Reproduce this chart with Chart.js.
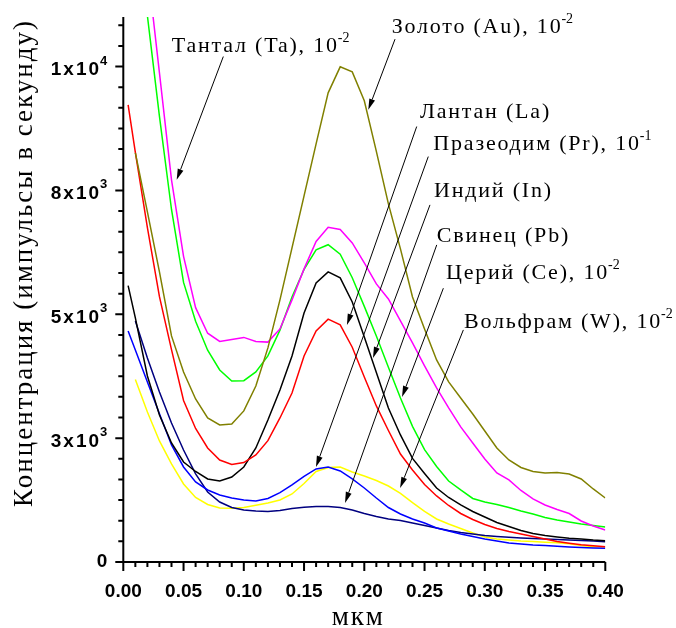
<!DOCTYPE html>
<html>
<head>
<meta charset="utf-8">
<script src="https://cdn.jsdelivr.net/npm/chart.js@4.4.1/dist/chart.umd.min.js"></script>
<style>
  html, body { margin: 0; padding: 0; background: #fff; }
  canvas { display: block; }
</style>
</head>
<body>
<canvas id="myChart" width="676" height="628"></canvas>
<script>
// глубина, мкм
const depth = [0.004, 0.01, 0.02, 0.03, 0.04, 0.05, 0.06, 0.07, 0.08, 0.09, 0.10,
  0.11, 0.12, 0.13, 0.14, 0.15, 0.16, 0.17, 0.18, 0.19, 0.20,
  0.21, 0.22, 0.23, 0.24, 0.25, 0.26, 0.27, 0.28, 0.29, 0.30,
  0.31, 0.32, 0.33, 0.34, 0.35, 0.36, 0.37, 0.38, 0.39, 0.40];

// концентрации (импульсы в секунду), уже с множителями
const gold = [null, 8258, 7067, 5855, 4563, 3836, 3291, 2907, 2766, 2786, 3049,
  3553, 4321, 5290, 6340, 7390, 8439, 9469, 9994, 9893, 9308,
  8288, 7228, 6319, 5350, 4704, 4078, 3634, 3311, 2988, 2645,
  2302, 2059, 1908, 1827, 1797, 1807, 1777, 1676, 1474, 1292];
const tantalum = [null, null, 12013, 9873, 7713, 6170, 5134, 4618, 4452, 4492, 4533,
  4452, 4438, 4704, 5290, 5916, 6471, 6754, 6713, 6441, 6037,
  5613, 5310, 4866, 4422, 3957, 3513, 3109, 2726, 2403, 2080,
  1797, 1656, 1444, 1272, 1151, 1060, 979, 828, 727, 646];
const greenLine = [null, 13043, 11024, 8993, 7115, 5643, 4860, 4274, 3876, 3654, 3660,
  3836, 4159, 4680, 5350, 5906, 6299, 6404, 6212, 5738, 5160,
  4563, 3929, 3311, 2738, 2267, 1928, 1635, 1454, 1282, 1211,
  1161, 1100, 1030, 969, 898, 848, 808, 767, 737, 707];
const redLine = [9227, 8268, 6750, 5356, 4288, 3261, 2695, 2302, 2059, 1969, 2007,
  2160, 2449, 2907, 3412, 4159, 4664, 4902, 4785, 4335, 3735,
  3150, 2655, 2180, 1857, 1565, 1333, 1141, 979, 858, 757,
  676, 616, 565, 515, 464, 414, 378, 347, 327, 309];
const blackLine = [5577, 4926, 3755, 2968, 2403, 2019, 1827, 1676, 1635, 1716, 1918,
  2302, 2867, 3473, 4159, 5027, 5633, 5855, 5734, 5249, 4543,
  3826, 3109, 2564, 2090, 1787, 1494, 1302, 1151, 1020, 909,
  798, 717, 636, 575, 535, 505, 478, 464, 444, 430];
const blueLine = [4664, 4280, 3634, 2990, 2362, 1918, 1615, 1454, 1353, 1292, 1252,
  1232, 1282, 1399, 1555, 1726, 1878, 1918, 1837, 1676, 1494,
  1292, 1100, 969, 868, 787, 686, 626, 565, 515, 464,
  424, 384, 363, 343, 333, 317, 303, 293, 283, 277];
const navyLine = [null, 4866, 4119, 3432, 2806, 2261, 1777, 1413, 1211, 1100, 1050,
  1030, 1020, 1040, 1080, 1104, 1121, 1121, 1100, 1050, 979,
  919, 868, 838, 787, 737, 686, 636, 596, 565, 535,
  515, 499, 485, 474, 464, 454, 444, 434, 424, 410];
const yellowLine = [null, 3685, 3029, 2443, 1979, 1575, 1302, 1161, 1090, 1084, 1100,
  1145, 1191, 1252, 1373, 1585, 1827, 1908, 1918, 1817, 1736,
  1645, 1534, 1383, 1197, 1020, 868, 767, 676, 586, 505,
  464, 444, 424, 414, 400, 388, 367, 333, 309, 309];

// подписи осей
const xTickValues = [0, 0.05, 0.10, 0.15, 0.20, 0.25, 0.30, 0.35, 0.40];
const xTickLabels = ['0.00', '0.05', '0.10', '0.15', '0.20', '0.25', '0.30', '0.35', '0.40'];
const yTickValues = [0, 2500, 5000, 7500, 10000];
const yTickText = ['0', '3x10', '5x10', '8x10', '1x10'];
const yTickPow = ['', '3', '3', '3', '4'];

const series = [
  { name: 'Au', values: gold, color: '#808000' },
  { name: 'Ta', values: tantalum, color: '#ff00ff' },
  { name: 'green', values: greenLine, color: '#00ff00' },
  { name: 'red', values: redLine, color: '#ff0000' },
  { name: 'black', values: blackLine, color: '#000000' },
  { name: 'blue', values: blueLine, color: '#0000ff' },
  { name: 'navy', values: navyLine, color: '#000080' },
  { name: 'yellow', values: yellowLine, color: '#ffff00' }
];

// выноски: текст, степень, точка текста и стрелка (в единицах осей)
const notes = [
  { text: 'Тантал (Ta), 10', pow: '-2', at: [0.0402, 10303], from: [0.0830, 10202], to: [0.0443, 7713] },
  { text: 'Золото (Au), 10', pow: '-2', at: [0.2227, 10674], from: [0.2255, 10553], to: [0.2033, 9126] },
  { text: 'Лантан (La)', pow: '', at: [0.2462, 8958], from: [0.2435, 8789], to: [0.1856, 4785] },
  { text: 'Празеодим (Pr), 10', pow: '-1', at: [0.2573, 8318], from: [0.2531, 8183], to: [0.1599, 1918] },
  { text: 'Индий (In)', pow: '', at: [0.2578, 7375], from: [0.2545, 7208], to: [0.2072, 4119] },
  { text: 'Свинец (Pb)', pow: '', at: [0.2601, 6467], from: [0.2601, 6400], to: [0.1840, 1191] },
  { text: 'Церий (Ce), 10', pow: '-2', at: [0.2678, 5708], from: [0.2656, 5526], to: [0.2313, 3331] },
  { text: 'Вольфрам (W), 10', pow: '-2', at: [0.2827, 4718], from: [0.2822, 4684], to: [0.2297, 1494] }
];

const SERIF = '"Liberation Serif", "Times New Roman", serif';
const SANS = '"Liberation Sans", Arial, sans-serif';

const axesPlugin = {
  id: 'originAxes',
  afterDraw(chart) {
    const { ctx, chartArea: a, scales: { x, y } } = chart;
    ctx.save();
    ctx.strokeStyle = '#000';
    ctx.fillStyle = '#000';
    ctx.lineWidth = 2;

    ctx.beginPath();
    ctx.moveTo(a.left, a.top);
    ctx.lineTo(a.left, a.bottom);
    ctx.lineTo(a.right, a.bottom);
    ctx.stroke();

    // деления X: мелкие через 0.01
    ctx.beginPath();
    for (let i = 0; i <= 40; i++) {
      const px = x.getPixelForValue(i / 100);
      const len = i % 5 === 0 ? 9 : 5;
      ctx.moveTo(px, a.bottom);
      ctx.lineTo(px, a.bottom + len);
    }
    // деления Y: шесть интервалов между главными
    for (let i = 0; i <= 26; i++) {
      const py = y.getPixelForValue(i * 2500 / 6);
      if (py < a.top - 1) break;
      const len = i % 6 === 0 ? 8 : 5;
      ctx.moveTo(a.left, py);
      ctx.lineTo(a.left - len, py);
    }
    ctx.stroke();

    ctx.font = 'bold 19px ' + SANS;
    ctx.textAlign = 'center';
    ctx.textBaseline = 'alphabetic';
    xTickValues.forEach((v, i) => {
      ctx.fillText(xTickLabels[i], x.getPixelForValue(v), a.bottom + 35);
    });

    const right = a.left - 16;
    yTickValues.forEach((v, i) => {
      const py = y.getPixelForValue(v);
      ctx.textAlign = 'right';
      if (!yTickPow[i]) {
        ctx.letterSpacing = '0px';
        ctx.font = 'bold 19px ' + SANS;
        ctx.fillText(yTickText[i], right, py + 5);
        return;
      }
      ctx.letterSpacing = '0px';
      ctx.font = 'bold 13px ' + SANS;
      const pw = ctx.measureText(yTickPow[i]).width;
      ctx.fillText(yTickPow[i], right, py - 2);
      ctx.letterSpacing = '2px';
      ctx.font = 'bold 19px ' + SANS;
      ctx.fillText(yTickText[i], right - pw + 1, py + 8.5);
    });

    // названия осей
    ctx.letterSpacing = '2px';
    ctx.font = '27px ' + SERIF;
    ctx.textAlign = 'center';
    ctx.fillText('мкм', (a.left + a.right) / 2 - 6, 625);
    ctx.save();
    ctx.translate(31.5, 263);
    ctx.rotate(-Math.PI / 2);
    ctx.fillText('Концентрация (импульсы в секунду)', 0, 0);
    ctx.restore();

    // выноски
    ctx.lineWidth = 1;
    notes.forEach(n => {
      const tx = x.getPixelForValue(n.at[0]);
      const ty = y.getPixelForValue(n.at[1]);
      ctx.letterSpacing = '1.8px';
      ctx.font = '22px ' + SERIF;
      ctx.textAlign = 'left';
      ctx.fillText(n.text, tx, ty);
      if (n.pow) {
        const w = ctx.measureText(n.text).width;
        ctx.letterSpacing = '0px';
        ctx.font = '14px ' + SERIF;
        ctx.fillText(n.pow, tx + w - 1, ty - 10);
      }
      const x0 = x.getPixelForValue(n.from[0]);
      const y0 = y.getPixelForValue(n.from[1]);
      const x1 = x.getPixelForValue(n.to[0]);
      const y1 = y.getPixelForValue(n.to[1]);
      const ang = Math.atan2(y1 - y0, x1 - x0);
      const hl = 11, hw = 3;
      const bx = x1 - hl * Math.cos(ang);
      const by = y1 - hl * Math.sin(ang);
      ctx.beginPath();
      ctx.moveTo(x0, y0);
      ctx.lineTo(bx, by);
      ctx.stroke();
      ctx.beginPath();
      ctx.moveTo(x1, y1);
      ctx.lineTo(bx + hw * Math.sin(ang), by - hw * Math.cos(ang));
      ctx.lineTo(bx - hw * Math.sin(ang), by + hw * Math.cos(ang));
      ctx.closePath();
      ctx.fill();
    });
    ctx.restore();
  }
};

const ctx = document.getElementById('myChart').getContext('2d');
const myChart = new Chart(ctx, {
  type: 'line',
  data: {
    datasets: series.map(s => ({
      label: s.name,
      data: depth.map((d, i) => ({ x: d, y: s.values[i] })),
      borderColor: s.color,
      borderWidth: 1.5,
      pointRadius: 0,
      tension: 0,
      fill: false
    }))
  },
  options: {
    responsive: false,
    animation: false,
    events: [],
    layout: { padding: { left: 123.3, right: 70.7, top: 17, bottom: 66 } },
    plugins: { legend: { display: false }, tooltip: { enabled: false } },
    scales: {
      x: { type: 'linear', min: 0, max: 0.4, display: false },
      y: { type: 'linear', min: 0, max: 11000, display: false }
    }
  },
  plugins: [axesPlugin]
});
</script>
</body>
</html>
